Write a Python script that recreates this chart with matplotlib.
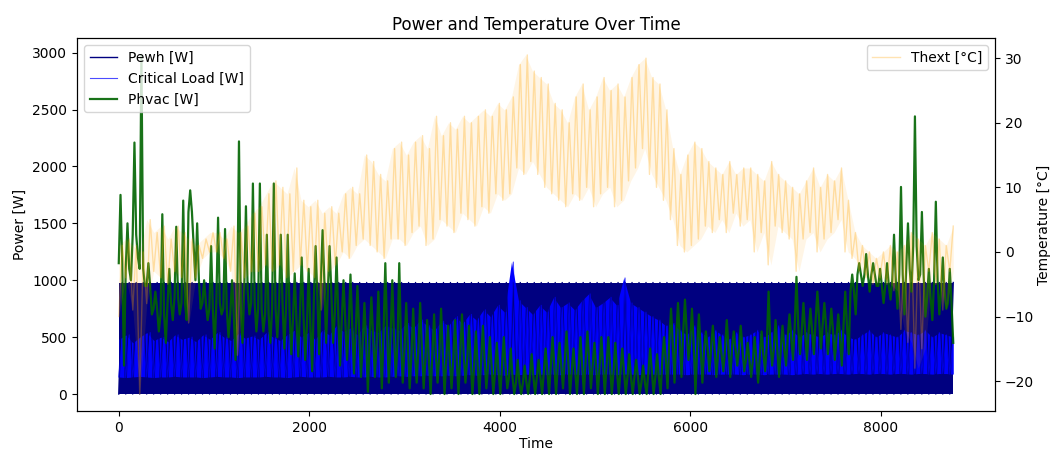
"""Power and temperature over one year (hourly, 0..8759), redrawn from block readings"""
import numpy as np, matplotlib; matplotlib.use("Agg")
import matplotlib.pyplot as plt

# each entry = reading for one ~73 h block of the year (120 blocks)
thext_lo = [-10, -4, -9, -22, -8, -3, -4, -5, -3, -4,
            -11, -4, -1, 0, 0, -1, -3, -16, -4, -3,
            -3, -2, -3, -2, -4, -3, -2, -3, -4, -9,
            -3, -2, 0, -1, 1, 2, 1, 0, -1, 2,
            2, 1, 3, 4, 1, 2, 5, 4, 3, 6,
            5, 4, 7, 6, 9, 8, 9, 13, 12, 14,
            12, 10, 9, 8, 7, 9, 8, 10, 7, 9,
            10, 7, 8, 11, 13, 16, 12, 10, 8, 5,
            1, 0, 1, 2, 4, 3, 5, 3, 6, 4,
            5, 0, 3, -2, 4, 3, 2, -3, 2, 3,
            0, 2, 3, 5, 0, -1, -3, -4, -5, -4,
            -5, -6, -12, -14, -18, -15, -3, -5, -9, -3]
thext_hi = [1, 2, 1, 0, 5, 3, 4, 2, 4, 3,
            2, 1, 2, 3, 3, 2, 4, 3, 4, 6,
            7, 9, 11, 10, 9, 13, 8, 7, 8, 6,
            7, 6, 9, 10, 9, 15, 14, 12, 11, 16,
            17, 15, 17, 18, 16, 21, 18, 20, 19, 21,
            20, 21, 22, 21, 23, 22, 24, 29, 30.5, 28,
            27, 26, 23, 22, 20, 24, 26, 22, 24, 27,
            25, 26, 24, 27, 29, 30, 27, 26, 22, 16,
            12, 15, 17, 16, 14, 13, 12, 14, 12, 13,
            13, 12, 11, 14, 12, 11, 10, 9, 11, 13,
            10, 12, 11, 13, 8, 3, 1, 0, -1, 0,
            1, 0, 1, 3, 2, 1, 3, 2, 1, 4]
phvac_lo = [250, 1000, 1200, 950, 700, 550, 450, 650, 700, 650,
            1300, 750, 650, 400, 700, 500, 300, 450, 700, 550,
            550, 450, 500, 400, 350, 330, 300, 200, 350, 450,
            450, 250, 300, 180, 150, 20, 150, 50, 100, 150,
            100, 50, 100, 50, 0, 100, 0, 50, 0, 100,
            0, 0, 50, 0, 0, 50, 0, 0, 0, 0,
            0, 0, 0, 50, 0, 0, 0, 50, 0, 0,
            0, 0, 0, 0, 0, 0, 0, 0, 50, 100,
            150, 300, 0, 100, 200, 150, 200, 150, 250, 200,
            150, 100, 200, 250, 150, 250, 300, 350, 300, 350,
            400, 350, 300, 250, 350, 700, 950, 900, 950, 800,
            830, 750, 700, 900, 1000, 680, 650, 700, 750, 450]
# level the hvac power sits at for most of the block
phvac_mid = [1150, 1100, 1400, 1100, 950, 750, 700, 800, 850, 800,
             1600, 1000, 800, 750, 800, 750, 700, 800, 900, 800,
             750, 700, 750, 800, 750, 650, 700, 600, 850, 1000,
             900, 700, 650, 600, 550, 450, 500, 450, 550, 500,
             450, 400, 350, 400, 300, 350, 350, 300, 300, 350,
             300, 250, 300, 250, 200, 250, 150, 100, 100, 150,
             150, 200, 250, 250, 300, 200, 250, 300, 250, 250,
             250, 200, 200, 150, 150, 100, 200, 150, 300, 450,
             500, 550, 450, 400, 400, 400, 350, 400, 400, 400,
             300, 300, 350, 450, 400, 400, 500, 600, 550, 550,
             650, 600, 550, 500, 600, 900, 1050, 1050, 1050, 950,
             950, 1000, 1050, 1100, 1300, 1050, 850, 1000, 900, 800]
phvac_hi = [1750, 1500, 2210, 2980, 1150, 900, 1580, 1100, 1470, 1700,
            1790, 1500, 1000, 1300, 1550, 1450, 1000, 2220, 1650, 1850,
            1850, 1400, 1850, 1400, 1400, 1060, 1200, 1100, 1300, 1440,
            1300, 1200, 1000, 1050, 950, 800, 850, 900, 1150, 1000,
            1150, 800, 750, 800, 650, 700, 750, 600, 650, 700,
            600, 550, 600, 500, 450, 500, 400, 300, 250, 350,
            300, 400, 500, 450, 550, 400, 500, 550, 450, 500,
            500, 450, 400, 350, 300, 250, 400, 350, 500, 750,
            800, 830, 750, 700, 550, 600, 500, 650, 550, 600,
            450, 500, 550, 900, 650, 600, 700, 1030, 800, 750,
            900, 800, 750, 700, 900, 1050, 1150, 1230, 1150, 1100,
            1150, 1400, 1820, 1500, 2440, 1600, 1100, 1690, 1200, 1100]
crit_lo = [150, 145, 150, 155, 150, 145, 150, 150, 155, 150,
           150, 150, 145, 150, 155, 150, 150, 145, 150, 150,
           150, 155, 150, 150, 145, 150, 155, 150, 150, 150,
           155, 150, 150, 155, 150, 150, 155, 150, 150, 155,
           160, 155, 160, 160, 165, 160, 160, 165, 160, 165,
           170, 165, 170, 175, 170, 165, 175, 170, 175, 170,
           175, 170, 175, 170, 175, 175, 170, 175, 170, 175,
           175, 170, 175, 175, 170, 175, 175, 170, 175, 175,
           175, 170, 175, 175, 175, 170, 175, 175, 175, 170,
           175, 175, 170, 175, 175, 175, 170, 175, 180, 175,
           180, 175, 180, 180, 175, 180, 180, 175, 180, 180,
           175, 180, 180, 175, 180, 180, 175, 180, 180, 175]
crit_hi = [480, 520, 450, 500, 540, 470, 500, 460, 520, 480,
           500, 460, 520, 480, 540, 500, 470, 530, 490, 510,
           480, 540, 500, 470, 520, 560, 500, 540, 480, 560,
           520, 600, 550, 580, 520, 600, 560, 540, 600, 580,
           560, 620, 580, 650, 600, 560, 640, 600, 680, 620,
           700, 650, 740, 680, 780, 720, 1160, 820, 760, 700,
           780, 720, 850, 760, 800, 740, 820, 880, 760, 800,
           850, 780, 1020, 800, 760, 720, 680, 650, 600, 620,
           560, 520, 600, 540, 500, 560, 520, 480, 540, 500,
           520, 560, 500, 540, 600, 520, 560, 500, 540, 520,
           500, 540, 520, 560, 500, 480, 520, 560, 500, 540,
           520, 500, 560, 540, 520, 560, 500, 540, 520, 500]
# water heater switches between off and full power in every block
pewh_lo = [0] * 120
pewh_hi = [980] * 120

n = len(thext_lo)
t_blk = np.linspace(0, 8759, n)

def path(*cols):
    y = np.column_stack(cols).ravel()
    return np.linspace(0, 8759, len(y)), y

fig, ax1 = plt.subplots(figsize=(10.51, 4.5), dpi=100)
fig.subplots_adjust(left=0.0733, right=0.9467, top=0.9156, bottom=0.0867)

ax1.fill_between(t_blk, pewh_lo, pewh_hi, color="navy", lw=0)
ax1.plot(*path(pewh_lo, pewh_hi), color="navy", lw=1, label="Pewh [W]")
ax1.fill_between(t_blk, crit_lo, crit_hi, color="blue", lw=0)
ax1.plot(*path(crit_lo, crit_hi), color="blue", alpha=0.7, lw=0.8, label="Critical Load [W]")
ax1.plot(*path(phvac_mid, phvac_hi, phvac_mid, phvac_lo), color="darkgreen", alpha=0.9, lw=1.6,
         label="Phvac [W]")
ax1.set_xlabel("Time", labelpad=2)
ax1.set_ylabel("Power [W]")
ax1.legend(loc="upper left")

ax2 = ax1.twinx()
ax2.fill_between(t_blk, thext_lo, thext_hi, color="orange", alpha=0.1, lw=0)
ax2.plot(*path(thext_lo, thext_hi), color="orange", alpha=0.3, lw=1.0, label="Thext [°C]")
ax2.set_ylabel("Temperature [°C]", labelpad=2)
ax2.legend(loc="upper right")

plt.title("Power and Temperature Over Time")
plt.savefig("out.png", dpi=100)
plt.close()
